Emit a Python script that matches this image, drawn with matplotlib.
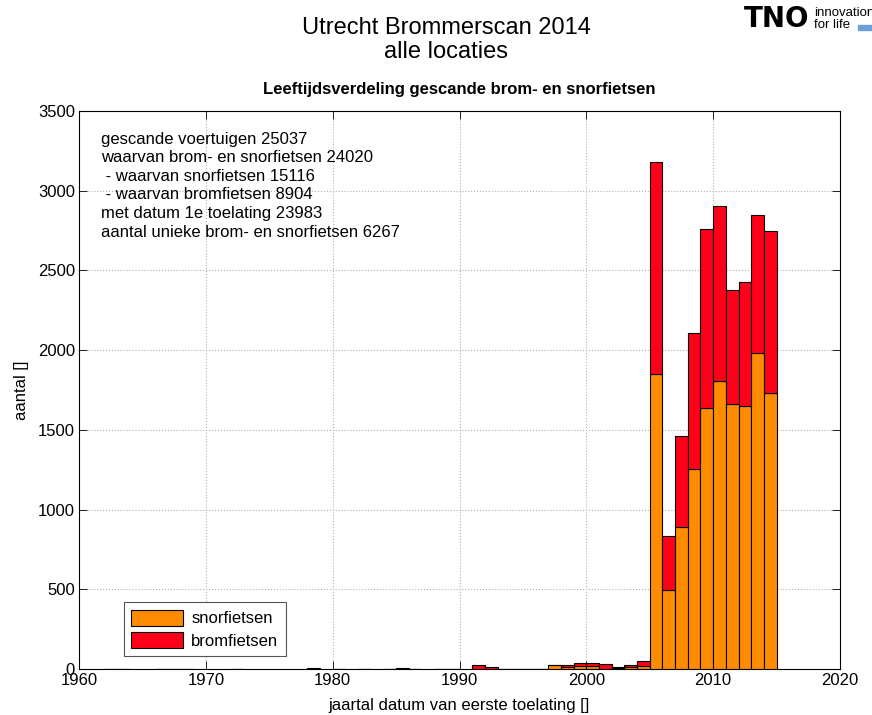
import numpy as np
import matplotlib
matplotlib.use("Agg")
import matplotlib.pyplot as plt
from matplotlib.patches import Rectangle

plt.rcParams.update({'font.family': ['Liberation Sans', 'DejaVu Sans'], 'font.size': 12})

# first registration year (bins of one year, left edge = year)
years = [1962, 1963, 1966, 1967, 1968, 1972, 1978, 1980, 1982, 1984, 1985, 1986, 1988, 1989,
         1991, 1992, 1993, 1994, 1995, 1996, 1997, 1998, 1999, 2000, 2001, 2002, 2003, 2004,
         2005, 2006, 2007, 2008, 2009, 2010, 2011, 2012, 2013, 2014]
snor = [1, 1, 1, 1, 1, 1, 0, 1, 1, 1, 0, 1, 1, 2,
        2, 1, 1, 1, 1, 2, 25, 12, 19, 20, 3, 8, 10, 18,
        1853, 495, 891, 1257, 1634, 1804, 1660, 1649, 1980, 1733]
brom = [0, 0, 0, 0, 0, 0, 5, 0, 0, 0, 4, 1, 0, 1,
        24, 14, 1, 1, 1, 0, 0, 13, 18, 17, 29, 5, 13, 34,
        1326, 338, 573, 852, 1128, 1097, 718, 777, 870, 1013]

c_snor = '#ff8c00'
c_brom = '#ff0019'

fig = plt.figure(figsize=(8.72, 7.15), dpi=100)
ax = fig.add_axes([79/872, 1-669/715, 761/872, 558/715])

ax.bar(years, snor, width=1, align='edge', color=c_snor, edgecolor='black', linewidth=0.8,
       label='snorfietsen', zorder=3)
ax.bar(years, brom, width=1, align='edge', bottom=snor, color=c_brom, edgecolor='black',
       linewidth=0.8, label='bromfietsen', zorder=3)

ax.set_xlim(1960, 2020); ax.set_ylim(0, 3500)
ax.set_xticks(np.arange(1960, 2021, 10)); ax.set_yticks(np.arange(0, 3501, 500))
ax.tick_params(direction='in', top=True, right=True, labelsize=12, length=6, width=0.6, pad=3)
ax.grid(True, linestyle=':', color='#b0b0b0', linewidth=0.8, zorder=0)
for s in ax.spines.values():
    s.set_linewidth(0.8)
ax.set_xlabel('jaartal datum van eerste toelating []', fontsize=12, labelpad=7)
ax.set_ylabel('aantal []', fontsize=12, labelpad=6)
ax.set_title('Leeftijdsverdeling gescande brom- en snorfietsen', fontsize=12,
             fontweight='bold', pad=12)

info = ('gescande voertuigen 25037\n'
        'waarvan brom- en snorfietsen 24020\n'
        ' - waarvan snorfietsen 15116\n'
        ' - waarvan bromfietsen 8904\n'
        'met datum 1e toelating 23983\n'
        'aantal unieke brom- en snorfietsen 6267')
ax.text(0.029, 0.963, info, transform=ax.transAxes, ha='left', va='top', fontsize=12,
        linespacing=1.3)

leg = ax.legend(loc='lower left', bbox_to_anchor=(0.048, 0.008), fontsize=12, fancybox=False,
                edgecolor='#555555', handlelength=3.1, handleheight=1.1, borderpad=0.45,
                labelspacing=0.35, handletextpad=0.5, framealpha=1)
leg.get_frame().set_linewidth(0.8)

fig.text(446/872, 1-40/715, 'Utrecht Brommerscan 2014\nalle locaties', ha='center', va='center',
         fontsize=17, linespacing=1.15)

# logo
fig.text(744/872, 1-19/715, 'TNO', ha='left', va='center', fontsize=20, fontweight='heavy',
         family='DejaVu Sans')
fig.text(814/872, 1-19/715, 'innovation\nfor life', ha='left', va='center', fontsize=9.5,
         linespacing=0.9)
fig.patches.append(Rectangle((858/872, 1-30/715), 16/872, 5/715, transform=fig.transFigure,
                             color='#6a9fd8', figure=fig))

fig.savefig('out.png', dpi=100)
